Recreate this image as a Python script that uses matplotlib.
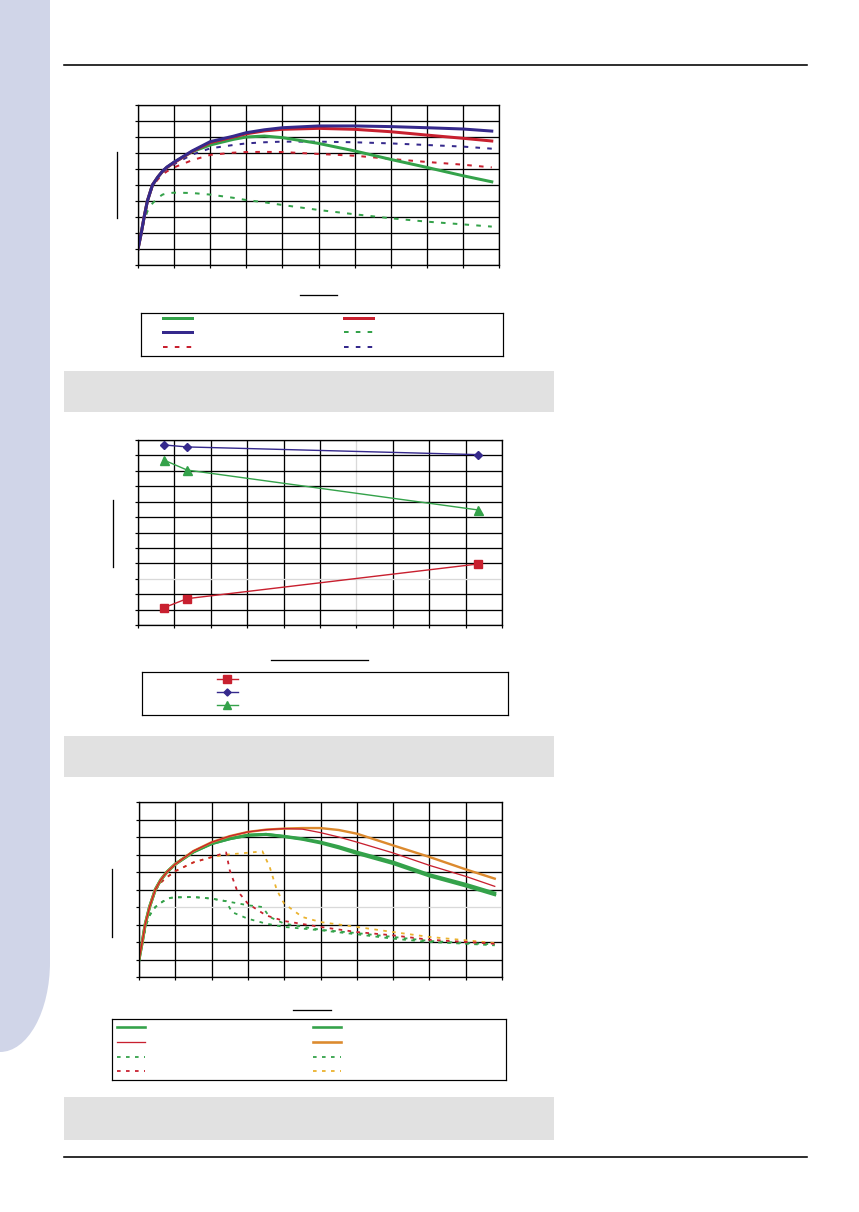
import matplotlib
matplotlib.use("Agg")
import matplotlib.pyplot as plt
from matplotlib.lines import Line2D
from matplotlib.patches import Rectangle, Ellipse

# ------------------------------
# DATA
# ------------------------------

# chart 1
c1_x = [0, 0.09, 0.17, 0.26, 0.4, 0.55, 0.68, 0.8, 1.0, 1.5, 2.0, 2.64, 3.0, 3.5, 4.0, 5.0, 6.0, 7.0, 8.0, 9.0, 9.8]
c1_green = [1.0, 2.0, 3.0, 4.0, 5.0, 5.5, 5.85, 6.1, 6.42, 7.08, 7.5, 7.85, 8.0, 8.06, 7.96, 7.6, 7.13, 6.6, 6.1, 5.58, 5.2]
c1_red = [1.0, 2.0, 3.0, 4.0, 5.0, 5.5, 5.85, 6.1, 6.4, 7.1, 7.65, 8.0, 8.2, 8.38, 8.48, 8.54, 8.48, 8.33, 8.12, 7.92, 7.75]
c1_purple = [1.0, 2.0, 3.0, 4.0, 5.0, 5.5, 5.87, 6.12, 6.43, 7.13, 7.71, 8.05, 8.27, 8.45, 8.58, 8.69, 8.69, 8.65, 8.58, 8.5, 8.37]
c1_green_d = [1.0, 2.0, 2.75, 3.35, 3.85, 4.2, 4.4, 4.48, 4.52, 4.5, 4.4, 4.2, 4.06, 3.92, 3.75, 3.44, 3.17, 2.92, 2.71, 2.54, 2.4]
c1_red_d = [1.0, 2.0, 3.0, 4.0, 4.9, 5.35, 5.65, 5.85, 6.1, 6.55, 6.88, 7.02, 7.06, 7.07, 7.06, 6.94, 6.83, 6.63, 6.44, 6.27, 6.1]
c1_purple_d = [1.0, 2.0, 3.0, 4.0, 4.95, 5.45, 5.78, 6.0, 6.3, 6.9, 7.29, 7.5, 7.6, 7.67, 7.71, 7.71, 7.67, 7.6, 7.5, 7.4, 7.27]

# chart 2
c2_x = [0.71, 1.35, 9.35]
c2_red = [1.12, 1.71, 3.96]
c2_purple = [11.68, 11.55, 11.05]
c2_green = [10.70, 10.05, 7.46]

# chart 3
c3_x = [0, 0.09, 0.17, 0.29, 0.45, 0.6, 0.77, 1.0, 1.5, 2.0, 2.5, 3.0, 3.5, 4.0, 4.5, 5.0, 5.5, 6.0, 7.0, 8.0, 9.0, 9.8]
c3_green1 = [1.0, 2.0, 3.0, 4.0, 5.0, 5.55, 6.0, 6.45, 7.15, 7.62, 7.9, 8.1, 8.15, 8.04, 7.9, 7.71, 7.45, 7.14, 6.57, 5.85, 5.3, 4.8]
c3_green2 = [1.0, 2.0, 3.0, 4.0, 5.0, 5.55, 6.0, 6.45, 7.15, 7.62, 7.9, 8.1, 8.15, 8.02, 7.87, 7.66, 7.38, 7.06, 6.48, 5.77, 5.2, 4.7]
c3_red = [1.0, 2.0, 3.0, 4.0, 5.0, 5.55, 6.0, 6.45, 7.2, 7.7, 8.05, 8.29, 8.42, 8.48, 8.45, 8.25, 8.0, 7.71, 7.09, 6.38, 5.75, 5.18]
c3_orange = [1.0, 2.0, 3.0, 4.0, 5.0, 5.55, 6.0, 6.45, 7.2, 7.7, 8.05, 8.29, 8.42, 8.48, 8.51, 8.51, 8.4, 8.19, 7.52, 6.86, 6.15, 5.62]

c3_gd1_x = [0, 0.09, 0.2, 0.3, 0.45, 0.66, 0.86, 1.0, 1.5, 2.0, 2.4, 2.56, 3.0, 3.5, 4.0, 5.0, 6.0, 7.0, 8.0, 9.0, 9.8]
c3_gd1 = [1.0, 2.0, 3.0, 3.55, 4.0, 4.32, 4.52, 4.55, 4.57, 4.48, 4.33, 3.71, 3.33, 3.05, 2.86, 2.67, 2.44, 2.19, 2.0, 1.9, 1.81]
c3_gd2_x = [0, 0.09, 0.2, 0.3, 0.45, 0.66, 0.86, 1.0, 1.5, 2.0, 2.4, 3.0, 3.4, 3.6, 4.0, 5.0, 6.0, 7.0, 8.0, 9.0, 9.8]
c3_gd2 = [1.0, 2.0, 3.0, 3.55, 4.0, 4.32, 4.52, 4.55, 4.57, 4.48, 4.33, 4.1, 4.0, 3.43, 3.05, 2.7, 2.51, 2.29, 2.06, 1.94, 1.87]
c3_rd_x = [0, 0.09, 0.17, 0.29, 0.45, 0.6, 0.77, 1.0, 1.5, 2.0, 2.4, 2.5, 2.7, 3.0, 3.5, 4.0, 5.0, 6.0, 7.0, 8.0, 9.0, 9.8]
c3_rd = [1.0, 2.0, 3.0, 4.0, 4.95, 5.4, 5.7, 6.05, 6.55, 6.85, 7.12, 6.1, 4.95, 4.19, 3.52, 3.2, 2.86, 2.57, 2.38, 2.13, 2.0, 1.9]
c3_od_x = [0, 0.09, 0.17, 0.29, 0.45, 0.6, 0.77, 1.0, 1.5, 2.0, 2.4, 3.0, 3.4, 3.6, 3.8, 4.0, 4.5, 5.0, 6.0, 7.0, 8.0, 9.0, 9.8]
c3_od = [1.0, 2.0, 3.0, 4.0, 4.95, 5.4, 5.7, 6.05, 6.55, 6.85, 6.99, 7.1, 7.18, 6.29, 4.95, 4.19, 3.43, 3.14, 2.86, 2.57, 2.29, 2.1, 1.94]

GREEN = '#34a24a'
RED = '#c8202f'
PURPLE = '#35298c'
ORANGE = '#dc8a2e'
GOLD = '#eab22e'
LIGHT = '#d9d9d9'

W, H = 859, 1212
PX = 0.72  # one pixel in points


def rect(x0, y0, x1, y1):
    # pixel box (top-left origin) -> figure fraction
    return [x0 / W, 1 - y1 / H, (x1 - x0) / W, (y1 - y0) / H]


def setup_axes(ax, nx, ny, light_x=(), light_y=()):
    ax.set_xlim(0, nx)
    ax.set_ylim(0, ny)
    ax.set_xticks(range(nx + 1))
    ax.set_yticks(range(ny + 1))
    ax.set_xticklabels([])
    ax.set_yticklabels([])
    ax.tick_params(direction='out', length=3 * PX, width=1.2 * PX, color='black')
    ax.grid(True, color='black', linewidth=1.3 * PX)
    for i in light_x:
        ax.get_xgridlines()[i].set_color(LIGHT)
    for i in light_y:
        ax.get_ygridlines()[i].set_color(LIGHT)
    for s in ax.spines.values():
        s.set_linewidth(1.3 * PX)
    ax.set_axisbelow(True)


def legend_box(box, entries):
    lax = fig.add_axes(rect(*box))
    lax.set_xlim(0, 1)
    lax.set_ylim(0, 1)
    lax.set_xticks([])
    lax.set_yticks([])
    for s in lax.spines.values():
        s.set_linewidth(1.2 * PX)
    for (x0, x1, y, kw) in entries:
        lax.plot([x0, (x0 + x1) / 2, x1], [y, y, y], **kw)
    return lax


def fig_line(x0, y0, x1, y1, lw=1.3):
    fig.add_artist(Line2D([x0 / W, x1 / W], [1 - y0 / H, 1 - y1 / H],
                          color='black', linewidth=lw * PX))


fig = plt.figure(figsize=(W / 100, H / 100), dpi=100)

# page decoration
fig.add_artist(Rectangle((0, 1 - 962 / H), 50 / W, 962 / H, transform=fig.transFigure,
                         facecolor='#d0d5e8', edgecolor='none'))
fig.add_artist(Ellipse((0, 1 - 962 / H), 100 / W, 180 / H, transform=fig.transFigure,
                       facecolor='#d0d5e8', edgecolor='none'))
fig_line(64, 65, 807, 65, 1.6)
fig_line(64, 1156.5, 807, 1156.5, 1.6)
for (y0, y1) in [(371, 412), (736, 777), (1097, 1140)]:
    fig.add_artist(Rectangle((64 / W, 1 - y1 / H), (554 - 64) / W, (y1 - y0) / H,
                             transform=fig.transFigure, facecolor='#e1e1e1', edgecolor='none'))

# ------------------------------
# CHART 1
# ------------------------------
ax1 = fig.add_axes(rect(138, 105, 499, 265))
setup_axes(ax1, 10, 10)
thick = 3 * PX
dash1 = dict(linewidth=2 * PX, linestyle=(0, (2.3, 3.6)))
ax1.plot(c1_x, c1_green_d, color=GREEN, **dash1)
ax1.plot(c1_x, c1_red_d, color=RED, **dash1)
ax1.plot(c1_x, c1_purple_d, color=PURPLE, **dash1)
ax1.plot(c1_x, c1_green, color=GREEN, linewidth=thick)
ax1.plot(c1_x, c1_red, color=RED, linewidth=thick)
ax1.plot(c1_x, c1_purple, color=PURPLE, linewidth=thick)

fig_line(300, 295, 337, 295)
fig_line(116.7, 152, 116.7, 218)

c1a, c1b, c2a, c2b = 0.061, 0.141, 0.561, 0.641
legend_box((141, 313, 503, 356), [
    (c1a, c1b, 0.884, dict(color=GREEN, linewidth=thick)),
    (c2a, c2b, 0.884, dict(color=RED, linewidth=thick)),
    (c1a, c1b, 0.558, dict(color=PURPLE, linewidth=thick)),
    (c2a, c2b, 0.558, dict(color=GREEN, **dash1)),
    (c1a, c1b, 0.21, dict(color=RED, **dash1)),
    (c2a, c2b, 0.21, dict(color=PURPLE, **dash1)),
])

# ------------------------------
# CHART 2
# ------------------------------
ax2 = fig.add_axes(rect(138, 440, 502, 625))
setup_axes(ax2, 10, 12, light_x=[6], light_y=[3])
ax2.plot(c2_x, c2_red, color=RED, linewidth=1.4 * PX, marker='s', markersize=8 * PX,
         markeredgecolor=RED)
ax2.plot(c2_x, c2_purple, color=PURPLE, linewidth=1.4 * PX, marker='D', markersize=6 * PX)
ax2.plot(c2_x, c2_green, color=GREEN, linewidth=1.4 * PX, marker='^', markersize=9 * PX)
for ln in ax2.lines:
    ln.set_clip_on(False)

fig_line(271, 660, 368, 660)
fig_line(113, 500, 113, 567)

lx0, lx1 = 0.205, 0.262
legend_box((142, 672, 508, 715), [
    (lx0, lx1, 0.837, dict(color=RED, linewidth=1.4 * PX, marker='s', markersize=8 * PX,
                           markevery=[1])),
    (lx0, lx1, 0.535, dict(color=PURPLE, linewidth=1.4 * PX, marker='D', markersize=5 * PX,
                           markevery=[1])),
    (lx0, lx1, 0.233, dict(color=GREEN, linewidth=1.4 * PX, marker='^', markersize=8 * PX,
                           markevery=[1])),
])

# ------------------------------
# CHART 3
# ------------------------------
ax3 = fig.add_axes(rect(139, 802, 502, 977))
setup_axes(ax3, 10, 10, light_y=[4])
dash3 = dict(linewidth=1.8 * PX, linestyle=(0, (2.0, 3.0)))
ax3.plot(c3_gd1_x, c3_gd1, color=GREEN, **dash3)
ax3.plot(c3_gd2_x, c3_gd2, color=GREEN, **dash3)
ax3.plot(c3_od_x, c3_od, color=GOLD, **dash3)
ax3.plot(c3_rd_x, c3_rd, color=RED, **dash3)
ax3.plot(c3_x, c3_green1, color=GREEN, linewidth=3 * PX)
ax3.plot(c3_x, c3_green2, color=GREEN, linewidth=3 * PX)
ax3.plot(c3_x, c3_orange, color=ORANGE, linewidth=2.4 * PX)
ax3.plot(c3_x, c3_red, color=RED, linewidth=1.3 * PX)

fig_line(293, 1010, 331, 1010)
fig_line(111.7, 869, 111.7, 937)

a0, a1, b0, b1 = 0.012, 0.083, 0.509, 0.58
legend_box((112, 1019, 506, 1080), [
    (a0, a1, 0.874, dict(color=GREEN, linewidth=2.6 * PX)),
    (b0, b1, 0.874, dict(color=GREEN, linewidth=2.6 * PX)),
    (a0, a1, 0.618, dict(color=RED, linewidth=1.3 * PX)),
    (b0, b1, 0.618, dict(color=ORANGE, linewidth=2.6 * PX)),
    (a0, a1, 0.372, dict(color=GREEN, **dash3)),
    (b0, b1, 0.372, dict(color=GREEN, **dash3)),
    (a0, a1, 0.148, dict(color=RED, **dash3)),
    (b0, b1, 0.148, dict(color=GOLD, **dash3)),
])

plt.savefig('out.png', dpi=100)
plt.close()
